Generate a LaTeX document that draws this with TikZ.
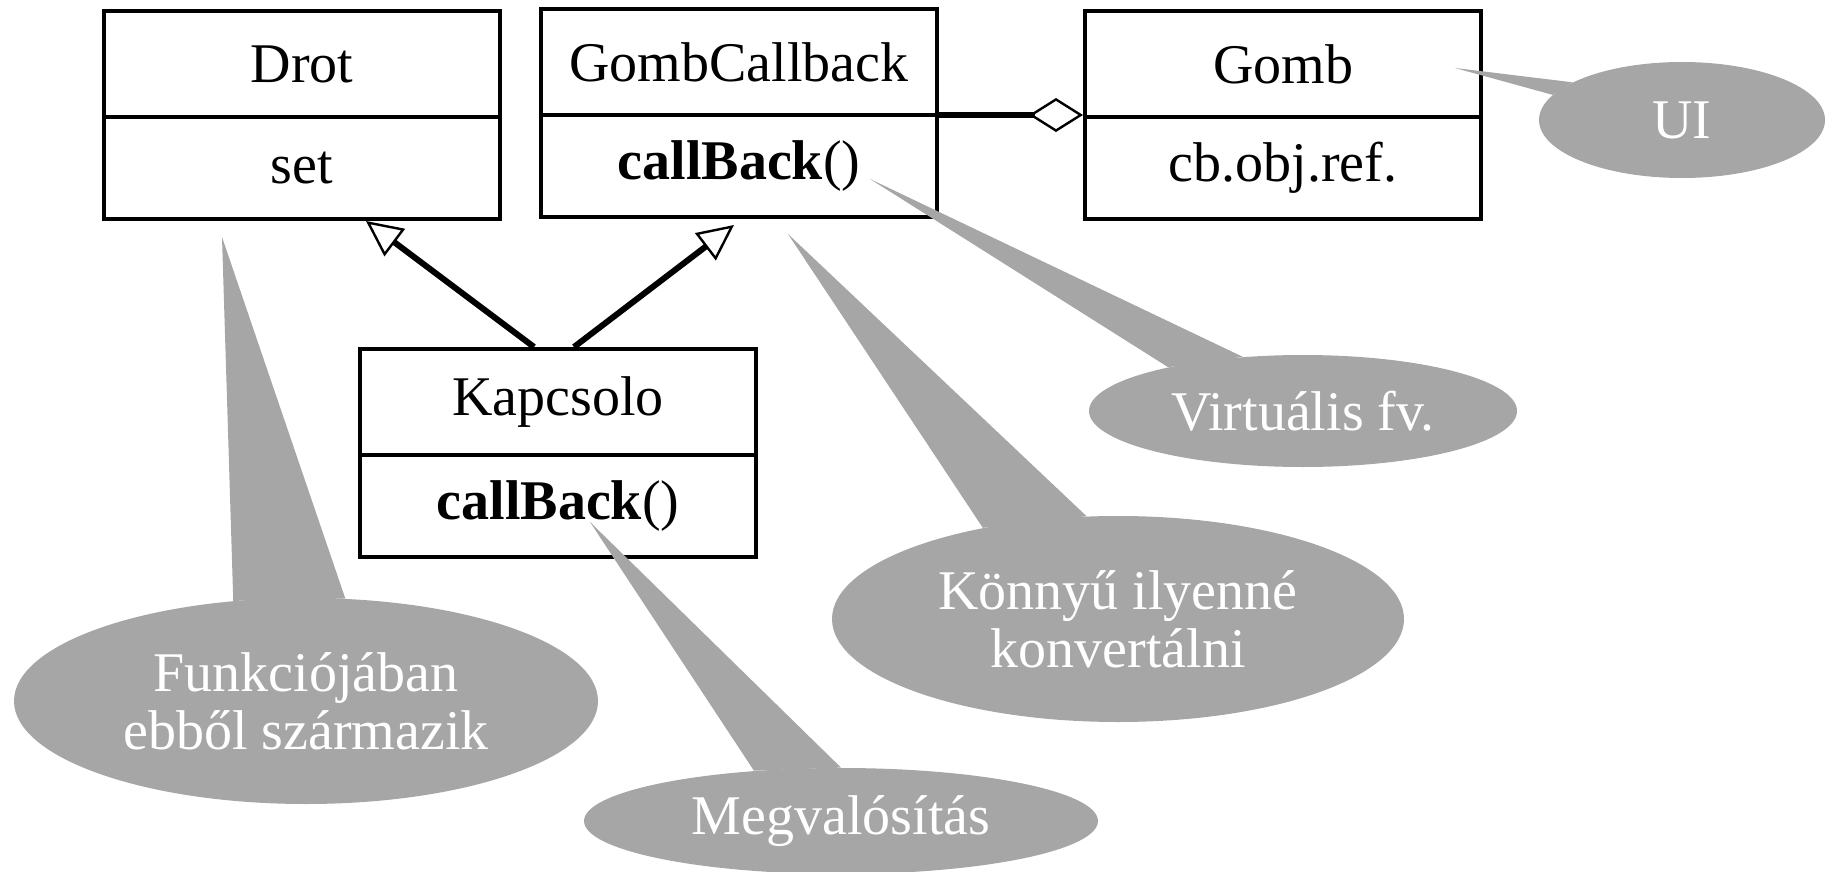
\documentclass[tikz,border=0pt]{standalone}
\usepackage{fontspec}
\setmainfont{Liberation Serif}
\usetikzlibrary{positioning,shapes.geometric,arrows.meta}
\definecolor{bubblegray}{HTML}{A6A6A6}
\begin{document}
\begin{tikzpicture}[x=0.5pt,y=-0.5pt,
    classname/.style={draw, line width=2pt, minimum width=198pt, minimum height=53pt, inner sep=0pt, font=\fontsize{28}{30}\selectfont},
    classops/.style={classname, minimum height=51pt},
    bubble/.style={ellipse, fill=bubblegray, inner sep=0pt, text=white, align=center, font=\fontsize{28}{29}\selectfont},
    inherit/.style={-{Triangle[open, length=18pt, width=17pt, line width=1.2pt]}, line width=3pt},
    aggr/.style={{Diamond[open, length=27pt, width=17pt, line width=1.2pt]}-, line width=3pt}]
    \useasboundingbox (0,0) rectangle (1832,872);

    % classes
    \node [classname] (drot) at (302,64) {Drot};
    \node [classops, below=-2pt of drot] (drotops) {set};

    \node [classname] (cb) at (739,62) {GombCallback};
    \node [classops, below=-2pt of cb] (cbops) {\textbf{callBack}()};

    \node [classname] (gomb) at (1283,64) {Gomb};
    \node [classops, below=-2pt of gomb] (gombops) {cb.obj.ref.};

    \node [classname] (kap) at (558,402) {Kapcsolo};
    \node [classops, below=-2pt of kap] (kapops) {\textbf{callBack}()};

    \draw [inherit] ([xshift=-12pt]kap.north) -- ([xshift=32pt]drotops.south);
    \draw [inherit] ([xshift=8pt]kap.north) -- ([xshift=-2.5pt, yshift=-3pt]cbops.south);
    \draw [aggr] ([yshift=1pt]gomb.west |- cb.south east) -- ([yshift=1pt]cb.south east);

    % callouts
    \node [bubble, minimum width=292pt, minimum height=103pt] (funk) at (306,701) {Funkciójában\\ebből származik};
    \coordinate (funktip) at (222,237);
    \fill [bubblegray] (funk.126) -- (funktip) -- (funk.69) -- cycle;

    \node [bubble, minimum width=257pt, minimum height=53pt] (megv) at (841,821) {Megvalósítás};
    \coordinate (megvtip) at (590,522);
    \fill [bubblegray] (megv.150) -- (megvtip) -- (megv.90) -- cycle;

    \node [bubble, minimum width=286pt, minimum height=103pt] (konny) at (1118,619) {Könnyű ilyenné\\konvertálni};
    \coordinate (konnytip) at (788,234);
    \fill [bubblegray] (konny.146) -- (konnytip) -- (konny.107) -- cycle;

    \node [bubble, minimum width=214pt, minimum height=56pt] (virt) at (1303,411) {Virtuális fv.};
    \coordinate (virttip) at (870,179);
    \fill [bubblegray] (virt.162) -- (virttip) -- (virt.138) -- cycle;

    \node [bubble, minimum width=143pt, minimum height=58pt] (ui) at (1682,120) {UI};
    \coordinate (uitip) at (1455,68);
    \fill [bubblegray] (ui.169) -- (uitip) -- (ui.161) -- cycle;
\end{tikzpicture}
\end{document}
